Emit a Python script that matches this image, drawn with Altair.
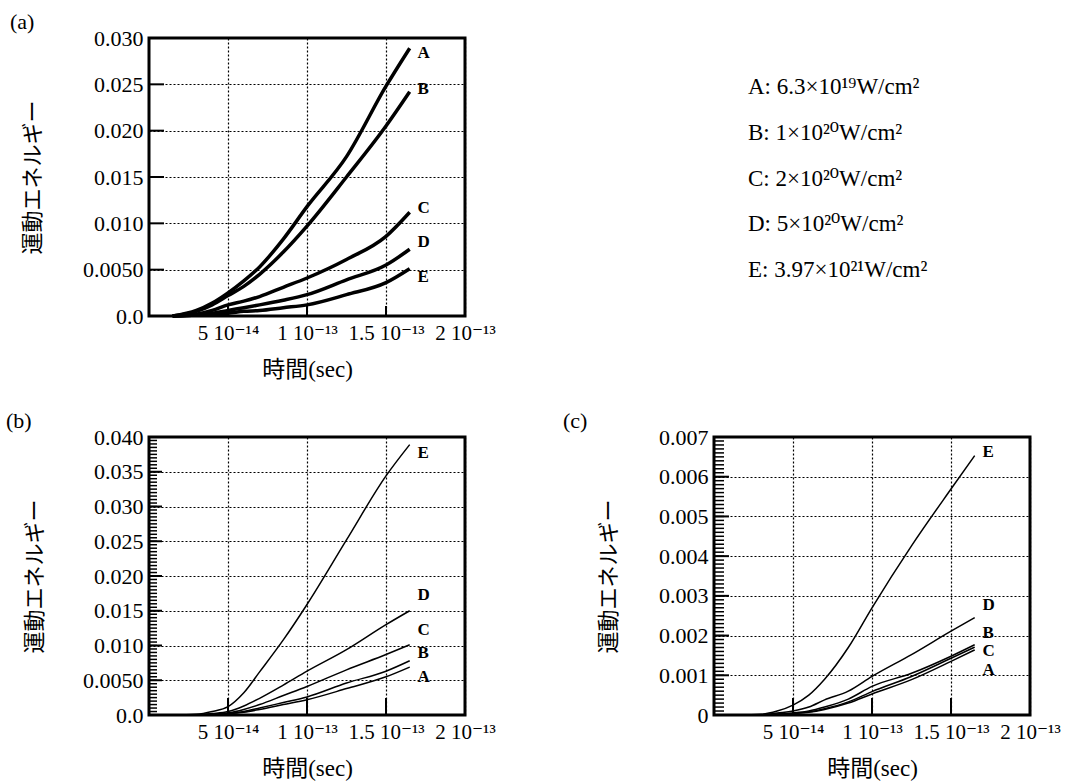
import altair as alt
import pandas as pd

SERIF = "Liberation Serif, DejaVu Serif, Noto Sans CJK JP"
SANS_JP = "Noto Sans CJK JP"

SERIES = ["A", "B", "C", "D", "E"]
TIME = [1.5e-14, 3e-14, 4e-14, 5e-14, 6e-14, 7e-14, 8.5e-14, 1.0e-13, 1.25e-13, 1.5e-13, 1.65e-13]

# panel (a)
A_a = [0, 0.0006, 0.0014, 0.0025, 0.0038, 0.0053, 0.0083, 0.0118, 0.0172, 0.0248, 0.0289]
B_a = [0, 0.0005, 0.0012, 0.0022, 0.0032, 0.0045, 0.0069, 0.0097, 0.0150, 0.0205, 0.0242]
C_a = [0, 0.0002, 0.0006, 0.0012, 0.0016, 0.0021, 0.0031, 0.0041, 0.0061, 0.0086, 0.0112]
D_a = [0, 0.0001, 0.0003, 0.0006, 0.0009, 0.0012, 0.0017, 0.0023, 0.0039, 0.0055, 0.0072]
E_a = [0, 0.0001, 0.0002, 0.0003, 0.0005, 0.0006, 0.0009, 0.0012, 0.0023, 0.0036, 0.0051]
# panel (b)
A_b = [0, 0, 0.0001, 0.0002, 0.0004, 0.0008, 0.0015, 0.0022, 0.0038, 0.0055, 0.0069]
B_b = [0, 0, 0.0001, 0.0002, 0.0005, 0.0010, 0.0018, 0.0026, 0.0046, 0.0063, 0.0078]
C_b = [0, 0, 0.0001, 0.0003, 0.0008, 0.0015, 0.0028, 0.0041, 0.0065, 0.0087, 0.0101]
D_b = [0, 0, 0.0002, 0.0005, 0.0013, 0.0024, 0.0043, 0.0063, 0.0094, 0.0130, 0.0150]
E_b = [0, 0.0001, 0.0005, 0.0012, 0.0032, 0.0062, 0.0108, 0.0159, 0.0252, 0.0344, 0.0389]
# panel (c)
A_c = [0, 0, 0.00002, 0.00004, 0.00007, 0.00014, 0.0003, 0.00053, 0.00089, 0.00135, 0.00164]
B_c = [0, 0, 0.00002, 0.00005, 0.0001, 0.0002, 0.0004, 0.00072, 0.00105, 0.00148, 0.00177]
C_c = [0, 0, 0.00002, 0.00004, 0.00008, 0.00016, 0.00033, 0.00059, 0.00097, 0.00143, 0.00171]
D_c = [0, 0, 0.00005, 0.0001, 0.0002, 0.00038, 0.0006, 0.00097, 0.00152, 0.00211, 0.00245]
E_c = [0, 0.00002, 0.0001, 0.00025, 0.0005, 0.0009, 0.0017, 0.0027, 0.00426, 0.00569, 0.00653]

# curve end labels
LABEL_T = 1.70e-13
LABEL_Y_A = [0.0284, 0.0245, 0.0117, 0.0080, 0.0042]
LABEL_Y_B = [0.0055, 0.0089, 0.0123, 0.0173, 0.0377]
LABEL_Y_C = [0.00114, 0.00207, 0.0016, 0.00276, 0.00662]

X_TICKS = [5e-14, 1e-13, 1.5e-13, 2e-13]
X_TICK_LABELS = ["5 10⁻¹⁴", "1 10⁻¹³", "1.5 10⁻¹³", "2 10⁻¹³"]

Y_TICKS_A = [0, 0.005, 0.01, 0.015, 0.02, 0.025, 0.03]
Y_LABELS_A = ["0.0", "0.0050", "0.010", "0.015", "0.020", "0.025", "0.030"]
Y_TICKS_B = [0, 0.005, 0.01, 0.015, 0.02, 0.025, 0.03, 0.035, 0.04]
Y_LABELS_B = ["0.0", "0.0050", "0.010", "0.015", "0.020", "0.025", "0.030", "0.035", "0.040"]
Y_TICKS_C = [0, 0.001, 0.002, 0.003, 0.004, 0.005, 0.006, 0.007]
Y_LABELS_C = ["0", "0.001", "0.002", "0.003", "0.004", "0.005", "0.006", "0.007"]

LEGEND_TEXT = [
    "A: 6.3×10¹⁹W/cm²",
    "B: 1×10²⁰W/cm²",
    "C: 2×10²⁰W/cm²",
    "D: 5×10²⁰W/cm²",
    "E: 3.97×10²¹W/cm²",
]

W, H = 316, 278


def make_panel(tag, curves, label_y, yticks, ylabels, ystep, minor_step,
               major_len, minor_len, xtick_len, stroke_w, title_dx, y_title_pad):
    rows = []
    for name, vals in zip(SERIES, curves):
        for t, v in zip(TIME, vals):
            rows.append({"t": t, "e": v, "s": name})
    df = pd.DataFrame(rows)
    lab = pd.DataFrame({"s": SERIES, "t": [LABEL_T] * 5, "e": label_y})

    xscale = alt.Scale(domain=[0, 2e-13], nice=False, zero=False)
    yscale = alt.Scale(domain=[0, yticks[-1]], nice=False)

    ylab_expr = "[" + ",".join("'%s'" % l for l in ylabels) + "][round(datum.value/" + repr(ystep) + ")]"
    xlab_expr = "[" + ",".join("'%s'" % l for l in X_TICK_LABELS) + "][round(datum.value/5e-14)-1]"

    x_axis = alt.Axis(values=X_TICKS, labelExpr=xlab_expr, title="時間(sec)",
                      grid=True, gridDash=[2, 2], gridColor="black", gridWidth=1.2, gridOpacity=1,
                      ticks=False, domain=False, labelFont=SERIF, labelFontSize=21,
                      labelColor="black", labelPadding=6, labelOverlap=False, labelFlush=False,
                      titleFont=SERIF, titleFontSize=23, titleFontWeight="normal",
                      titleColor="black", titlePadding=15)
    y_axis = alt.Axis(values=yticks, labelExpr=ylab_expr, title="運動エネルギー",
                      grid=True, gridDash=[2, 2], gridColor="black", gridWidth=1.2, gridOpacity=1,
                      ticks=False, domain=False, labelFont=SERIF, labelFontSize=22,
                      labelColor="black", labelPadding=6, labelOverlap=False, labelFlush=False,
                      titleFont=SANS_JP, titleFontSize=22, titleFontWeight="normal",
                      titleColor="black", titlePadding=y_title_pad)

    X = lambda: alt.X("t:Q", scale=xscale, axis=x_axis)
    Y = lambda: alt.Y("e:Q", scale=yscale, axis=y_axis)

    lines = alt.Chart(df).mark_line(color="black", strokeWidth=stroke_w, interpolate="monotone").encode(
        x=X(), y=Y(), detail="s:N",
    )
    labels = alt.Chart(lab).mark_text(align="left", baseline="middle", font=SERIF,
                                      fontSize=17, fontWeight="bold", color="black").encode(
        x=X(), y=Y(), text="s:N",
    )
    ymaj = alt.Chart(pd.DataFrame({"e": yticks})).mark_rule(color="black", strokeWidth=2).encode(
        y=Y(), x=alt.value(0), x2=alt.value(major_len),
    )
    xmaj = alt.Chart(pd.DataFrame({"t": X_TICKS[:3]})).mark_rule(color="black", strokeWidth=2).encode(
        x=X(), y=alt.value(H), y2=alt.value(H - xtick_len),
    )
    layers = [lines, ymaj, xmaj, labels]
    if minor_step:
        n = int(round(yticks[-1] / minor_step))
        minor = [i * minor_step for i in range(1, n)]
        ymin = alt.Chart(pd.DataFrame({"e": minor})).mark_rule(color="black", strokeWidth=1.5).encode(
            y=Y(), x=alt.value(0), x2=alt.value(minor_len),
        )
        layers.insert(1, ymin)
    return alt.layer(*layers).properties(
        width=W, height=H,
        view=alt.ViewBackground(stroke="black", strokeWidth=3),
        title=alt.TitleParams(tag, anchor="start", frame="group", dx=title_dx, offset=-7,
                              font=SERIF, fontSize=22, fontWeight="normal", color="black"),
    )


pa = make_panel("(a)", [A_a, B_a, C_a, D_a, E_a], LABEL_Y_A, Y_TICKS_A, Y_LABELS_A, 0.005, None,
                15, 0, 10, 3.5, -139, 38)
pb = make_panel("(b)", [A_b, B_b, C_b, D_b, E_b], LABEL_Y_B, Y_TICKS_B, Y_LABELS_B, 0.005, 0.0005,
                13, 8, 17, 1.5, -143, 36)
pc = make_panel("(c)", [A_c, B_c, C_c, D_c, E_c], LABEL_Y_C, Y_TICKS_C, Y_LABELS_C, 0.001, 0.0001,
                15, 10, 17, 1.5, -151, 38)

leg = alt.Chart(pd.DataFrame({"i": list(range(5)), "txt": LEGEND_TEXT})).mark_text(
    align="left", baseline="middle", font=SERIF, fontSize=23, color="black"
).encode(
    x=alt.value(34),
    y=alt.Y("i:Q", scale=alt.Scale(domain=[-1.071, 5.005], reverse=True, nice=False, zero=False), axis=None),
    text="txt:N",
).properties(width=W, height=H, view=alt.ViewBackground(stroke="transparent"))

chart = alt.concat(pa, leg, pb, pc, columns=2, spacing={"row": 121, "column": 249}).properties(
    bounds="flush",
    padding={"left": 4, "top": 9, "right": 0, "bottom": 0},
).configure(background="white")

chart.save("out.html", embed_options={"renderer": "svg", "actions": False})
